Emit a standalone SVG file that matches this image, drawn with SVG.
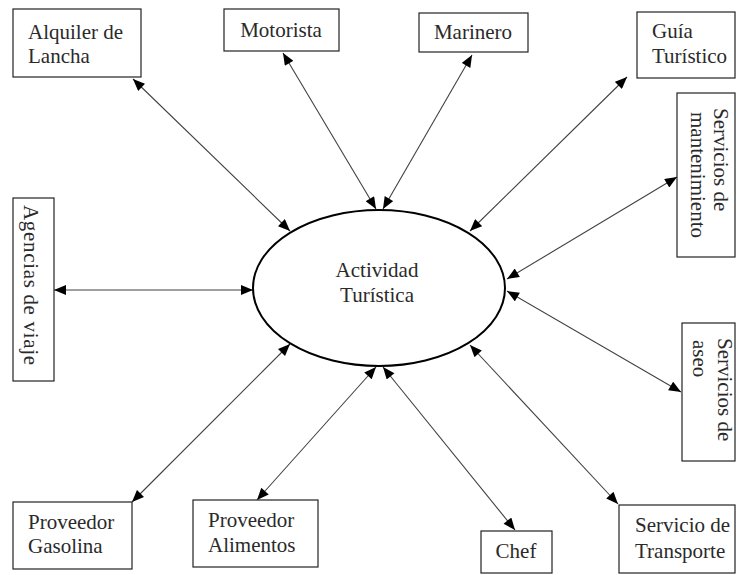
<svg xmlns="http://www.w3.org/2000/svg" width="736" height="575" viewBox="0 0 736 575">
<style>
.box{fill:#fff;stroke:#222;stroke-width:1.2}
.t{font-family:"Liberation Serif","Times New Roman",Tinos,"DejaVu Serif",serif;font-size:21px;fill:#2a2a2a}
.c{stroke:#404040;stroke-width:1.1;fill:none;marker-start:url(#ah);marker-end:url(#ah)}
</style>
<defs>
<marker id="ah" viewBox="0 0 12 10" refX="12" refY="5" markerWidth="13" markerHeight="10" markerUnits="userSpaceOnUse" orient="auto-start-reverse">
<path d="M0,0 L12,5 L0,10 Z" fill="#000"/>
</marker>
</defs>
<rect width="736" height="575" fill="#fff"/>
<g id="connectors">
<line class="c" x1="290" y1="231" x2="133" y2="79"/>
<line class="c" x1="376" y1="209" x2="283" y2="53"/>
<line class="c" x1="383" y1="209" x2="472" y2="55"/>
<line class="c" x1="470" y1="231" x2="627" y2="77"/>
<line class="c" x1="507" y1="279" x2="677" y2="177"/>
<line class="c" x1="507" y1="291" x2="681" y2="392"/>
<line class="c" x1="253" y1="290" x2="54" y2="290"/>
<line class="c" x1="290" y1="344" x2="132" y2="502"/>
<line class="c" x1="376" y1="367" x2="257" y2="500"/>
<line class="c" x1="383" y1="367" x2="515" y2="530"/>
<line class="c" x1="470" y1="345" x2="618" y2="504"/>
</g>
<g id="actividad">
<ellipse cx="379" cy="288" rx="126" ry="78" fill="#fff" stroke="#000" stroke-width="2"/>
<text class="t" x="377" y="277" text-anchor="middle">Actividad</text>
<text class="t" x="377" y="302" text-anchor="middle">Turística</text>
</g>
<g id="alquiler">
<rect class="box" x="13" y="9" width="128" height="68"/>
<text class="t" x="28" y="39">Alquiler de</text>
<text class="t" x="28" y="63">Lancha</text>
</g>
<g id="motorista">
<rect class="box" x="224" y="9" width="115" height="42"/>
<text class="t" x="281" y="37" text-anchor="middle">Motorista</text>
</g>
<g id="marinero">
<rect class="box" x="419" y="13" width="109" height="39"/>
<text class="t" x="473" y="39" text-anchor="middle">Marinero</text>
</g>
<g id="guia">
<rect class="box" x="637" y="12" width="98" height="66"/>
<text class="t" x="652" y="38">Guía</text>
<text class="t" x="652" y="63">Turístico</text>
</g>
<g id="mantenimiento">
<rect class="box" x="677" y="93" width="58" height="164"/>
<text class="t" transform="translate(714,108) rotate(90)">Servicios de</text>
<text class="t" transform="translate(691,112) rotate(90)">mantenimiento</text>
</g>
<g id="aseo">
<rect class="box" x="682" y="323" width="53" height="138"/>
<text class="t" transform="translate(718,338) rotate(90)">Servicios de</text>
<text class="t" transform="translate(693,340) rotate(90)">aseo</text>
</g>
<g id="agencias">
<rect class="box" x="13" y="198" width="41" height="183"/>
<text class="t" transform="translate(24,205) rotate(90)" textLength="160" lengthAdjust="spacing">Agencias de viaje</text>
</g>
<g id="gasolina">
<rect class="box" x="13" y="502" width="119" height="67"/>
<text class="t" x="28" y="529">Proveedor</text>
<text class="t" x="28" y="553">Gasolina</text>
</g>
<g id="alimentos">
<rect class="box" x="193" y="500" width="125" height="67"/>
<text class="t" x="208" y="527">Proveedor</text>
<text class="t" x="208" y="552">Alimentos</text>
</g>
<g id="chef">
<rect class="box" x="481" y="531" width="71" height="42"/>
<text class="t" x="516" y="558" text-anchor="middle">Chef</text>
</g>
<g id="transporte">
<rect class="box" x="619" y="505" width="116" height="68"/>
<text class="t" x="635" y="532">Servicio de</text>
<text class="t" x="635" y="558">Transporte</text>
</g>
</svg>
